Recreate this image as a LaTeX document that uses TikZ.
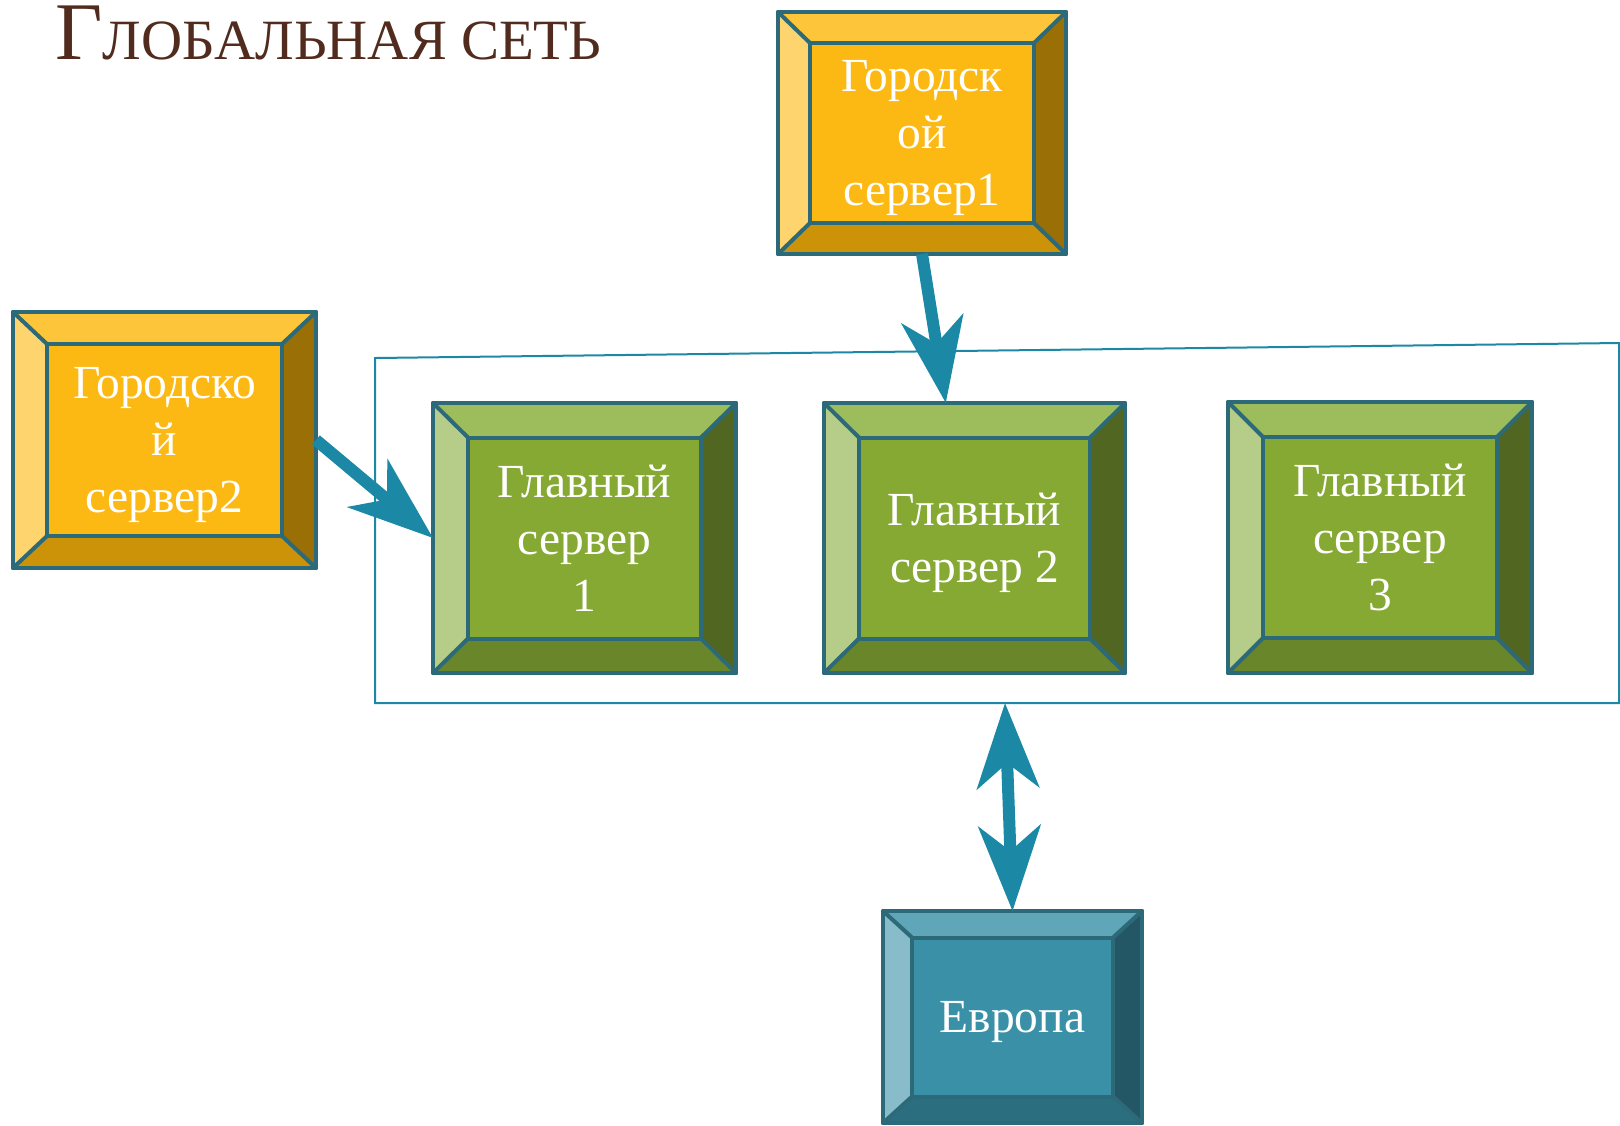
\documentclass[tikz,border=0pt]{standalone}
\usepackage{fontspec}
\setmainfont{Liberation Serif}
\usetikzlibrary{arrows.meta,backgrounds}

\definecolor{mainorng}{HTML}{FDB913}
\definecolor{toporng}{HTML}{FDC63A}
\definecolor{lftorng}{HTML}{FED46E}
\definecolor{rgtorng}{HTML}{9A6F05}
\definecolor{botorng}{HTML}{CC9309}
\definecolor{maingrn}{HTML}{86A934}
\definecolor{topgrn}{HTML}{9DBD5C}
\definecolor{lftgrn}{HTML}{B5CD89}
\definecolor{rgtgrn}{HTML}{516621}
\definecolor{botgrn}{HTML}{6A862A}
\definecolor{mainblu}{HTML}{3A91A7}
\definecolor{topblu}{HTML}{5FA6B8}
\definecolor{lftblu}{HTML}{89BCCB}
\definecolor{rgtblu}{HTML}{235766}
\definecolor{botblu}{HTML}{2B6E80}
\definecolor{edgeteal}{HTML}{2C6A7A}
\definecolor{arrowteal}{HTML}{1B89A5}
\definecolor{titlebrown}{HTML}{512B1E}

% last line of a label: keep its descender out of the centring
\newcommand{\nodesc}[1]{\raisebox{0pt}[\height][0pt]{#1}}

\tikzset{
    shell/.style={draw=edgeteal, line width=0.04cm, line join=round, inner sep=0pt, outer sep=0pt},
    face/.style={shell, text=white, align=center, font=\fontsize{13.5}{16.2}\selectfont},
    bevel/.style={draw=edgeteal, line width=0.04cm, line cap=round},
    feed/.style={draw=arrowteal, line width=0.12cm},
    netframe/.style={draw=arrowteal, line width=0.02cm}
}

\begin{document}
\begin{tikzpicture}[>={Stealth[length=0.85cm,width=0.62cm,inset=0.25cm]}]
        \useasboundingbox (0,0) rectangle (16.2,-11.25);

        \node[anchor=base west, text=titlebrown] (title) at (0.43,-0.59)
            {{\fontsize{23.3}{28}\selectfont Г}{\fontsize{16.2}{19}\selectfont ЛОБАЛЬНАЯ СЕТЬ}};

        % the frame round the main servers
        \coordinate (nettl) at (3.75,-3.58);
        \coordinate (nettr) at (16.19,-3.43);
        \coordinate (netbr) at (16.19,-7.03);
        \coordinate (netbl) at (3.75,-7.03);
        \coordinate (netbot) at (10.05,-7.03);
        \draw[netframe] (nettl) -- (nettr) -- (netbr) -- (netbl) -- cycle;

        \node[shell, minimum width=2.88cm, minimum height=2.42cm] (gor1) at (9.22,-1.33) {};
        \node[face, fill=mainorng, minimum width=2.24cm, minimum height=1.80cm] (gor1-in) at (gor1.center) {Городск\\ой\\\nodesc{сервер1}};

        \node[shell, minimum width=3.03cm, minimum height=2.56cm] (gor2) at (1.645,-4.40) {};
        \node[face, fill=mainorng, minimum width=2.35cm, minimum height=1.92cm] (gor2-in) at (gor2.center) {Городско\\й\\\nodesc{сервер2}};

        \node[shell, minimum width=3.03cm, minimum height=2.70cm] (g1) at (5.845,-5.38) {};
        \node[face, fill=maingrn, minimum width=2.33cm, minimum height=2.01cm] (g1-in) at (g1.center) {Главный\\сервер\\1};

        \node[shell, minimum width=3.01cm, minimum height=2.70cm] (g2) at (9.745,-5.38) {};
        \node[face, fill=maingrn, minimum width=2.31cm, minimum height=2.01cm] (g2-in) at (g2.center) {Главный\\\nodesc{сервер 2}};

        \node[shell, minimum width=3.04cm, minimum height=2.71cm] (g3) at (13.80,-5.375) {};
        \node[face, fill=maingrn, minimum width=2.34cm, minimum height=2.01cm] (g3-in) at (g3.center) {Главный\\сервер\\3};

        \node[shell, minimum width=2.59cm, minimum height=2.12cm] (euro) at (10.125,-10.17) {};
        \node[face, fill=mainblu, minimum width=2.01cm, minimum height=1.59cm] (euro-in) at (euro.center) {\nodesc{Европа}};

        % bevels
        \begin{scope}[on background layer]
        \foreach \n/\p in {gor1/orng, gor2/orng, g1/grn, g2/grn, g3/grn, euro/blu} {
            \fill[fill=top\p] (\n.north west) -- (\n.north east) -- (\n-in.north east) -- (\n-in.north west) -- cycle;
            \fill[fill=lft\p] (\n.north west) -- (\n.south west) -- (\n-in.south west) -- (\n-in.north west) -- cycle;
            \fill[fill=rgt\p] (\n.north east) -- (\n.south east) -- (\n-in.south east) -- (\n-in.north east) -- cycle;
            \fill[fill=bot\p] (\n.south west) -- (\n.south east) -- (\n-in.south east) -- (\n-in.south west) -- cycle;
        }
        \end{scope}
        \foreach \n in {gor1, gor2, g1, g2, g3, euro} {
            \draw[bevel] (\n.north west) -- (\n-in.north west);
            \draw[bevel] (\n.north east) -- (\n-in.north east);
            \draw[bevel] (\n.south east) -- (\n-in.south east);
            \draw[bevel] (\n.south west) -- (\n-in.south west);
        }

        \draw[feed,->] (gor1.south) -- (g2.102);
        \draw[feed,->] (gor2.east) -- (g1.west);
        \draw[feed,<->] (netbot) -- (euro.north);

    \end{tikzpicture}
\end{document}
